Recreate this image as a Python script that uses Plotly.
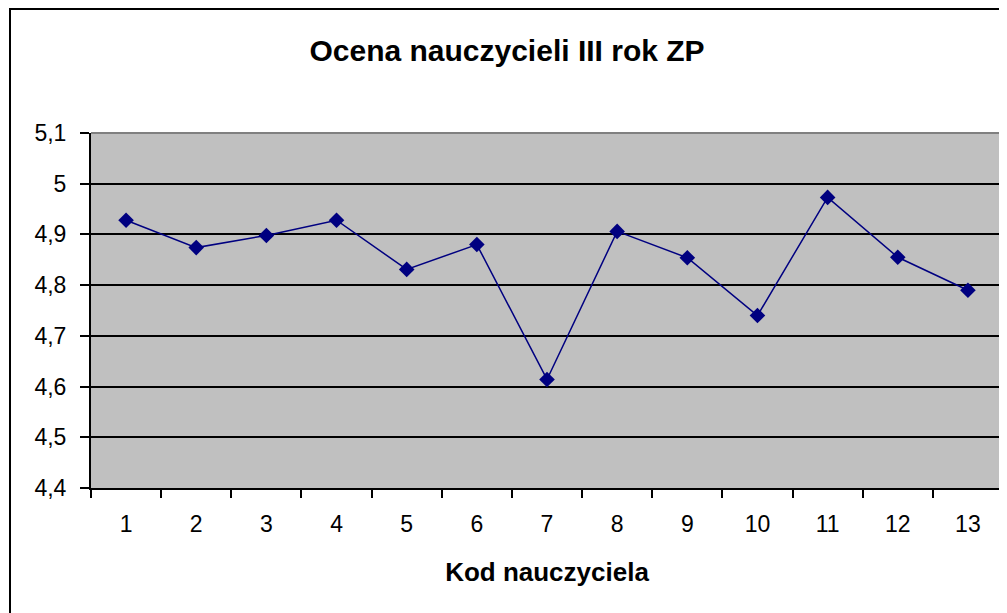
import plotly.graph_objects as go

categories = ["1", "2", "3", "4", "5", "6", "7", "8", "9", "10", "11", "12", "13"]
scores = [4.928, 4.874, 4.898, 4.928, 4.831, 4.880, 4.614, 4.906, 4.854, 4.740, 4.973, 4.855, 4.790]
y_tickvals = [4.4, 4.5, 4.6, 4.7, 4.8, 4.9, 5.0, 5.1]
y_ticktext = ["4,4", "4,5", "4,6", "4,7", "4,8", "4,9", "5", "5,1"]

FONT = "Liberation Sans, Arial, sans-serif"
OFF = 8  # page body margin
W, H = 1007 - OFF, 613 - OFF
L, R, T, B = 91 - OFF, 4, 133 - OFF, 125
pw, ph = W - L - R, H - T - B

def px(x):  # page pixel -> paper
    return (x - OFF - L) / pw

def py(y):
    return (H - B - (y - OFF)) / ph

fig = go.Figure()
fig.add_trace(go.Scatter(
    x=categories, y=scores, mode="lines+markers",
    line=dict(color="#000080", width=1.5),
    marker=dict(symbol="diamond", size=12, color="#000080"),
    showlegend=False, cliponaxis=False,
))

fig.update_layout(
    width=W, height=H,
    margin=dict(l=L, r=R, t=T, b=B, pad=0),
    paper_bgcolor="white", plot_bgcolor="#C0C0C0",
    font=dict(family=FONT, color="black", size=23),
    title=dict(text="<b>Ocena nauczycieli III rok ZP</b>", x=px(507), xref="paper",
               xanchor="center", y=1 - (50 - OFF) / H, yanchor="middle",
               font=dict(size=30, family=FONT, color="black")),
    showlegend=False,
    shapes=[
        dict(type="rect", xref="paper", yref="paper",
             x0=px(10), y0=py(640), x1=px(1030), y1=py(9),
             line=dict(color="black", width=2), fillcolor="rgba(0,0,0,0)", layer="below"),
        dict(type="line", xref="paper", yref="paper", x0=0, x1=1, y0=1, y1=1,
             line=dict(color="#808080", width=2)),
        dict(type="line", xref="paper", yref="paper", x0=1, x1=1, y0=0, y1=1,
             line=dict(color="#808080", width=2)),
    ],
)

fig.update_xaxes(
    type="category", range=[-0.5, 12.5],
    tickson="boundaries", ticks="outside", ticklen=8, tickwidth=2, tickcolor="black",
    showline=True, linecolor="black", linewidth=2, showgrid=False,
    tickfont=dict(size=23, family=FONT), ticklabelstandoff=14,
    title=dict(text="<b>Kod nauczyciela</b>", font=dict(size=26, family=FONT), standoff=27),
)
fig.update_yaxes(
    range=[4.4, 5.1], tickvals=y_tickvals, ticktext=y_ticktext,
    ticks="outside", ticklen=9, tickwidth=2, tickcolor="black",
    showline=True, linecolor="black", linewidth=2,
    showgrid=True, gridcolor="black", gridwidth=1.5, zeroline=False,
    tickfont=dict(size=23, family=FONT), ticklabelstandoff=9,
)

fig.write_html("out.html")
